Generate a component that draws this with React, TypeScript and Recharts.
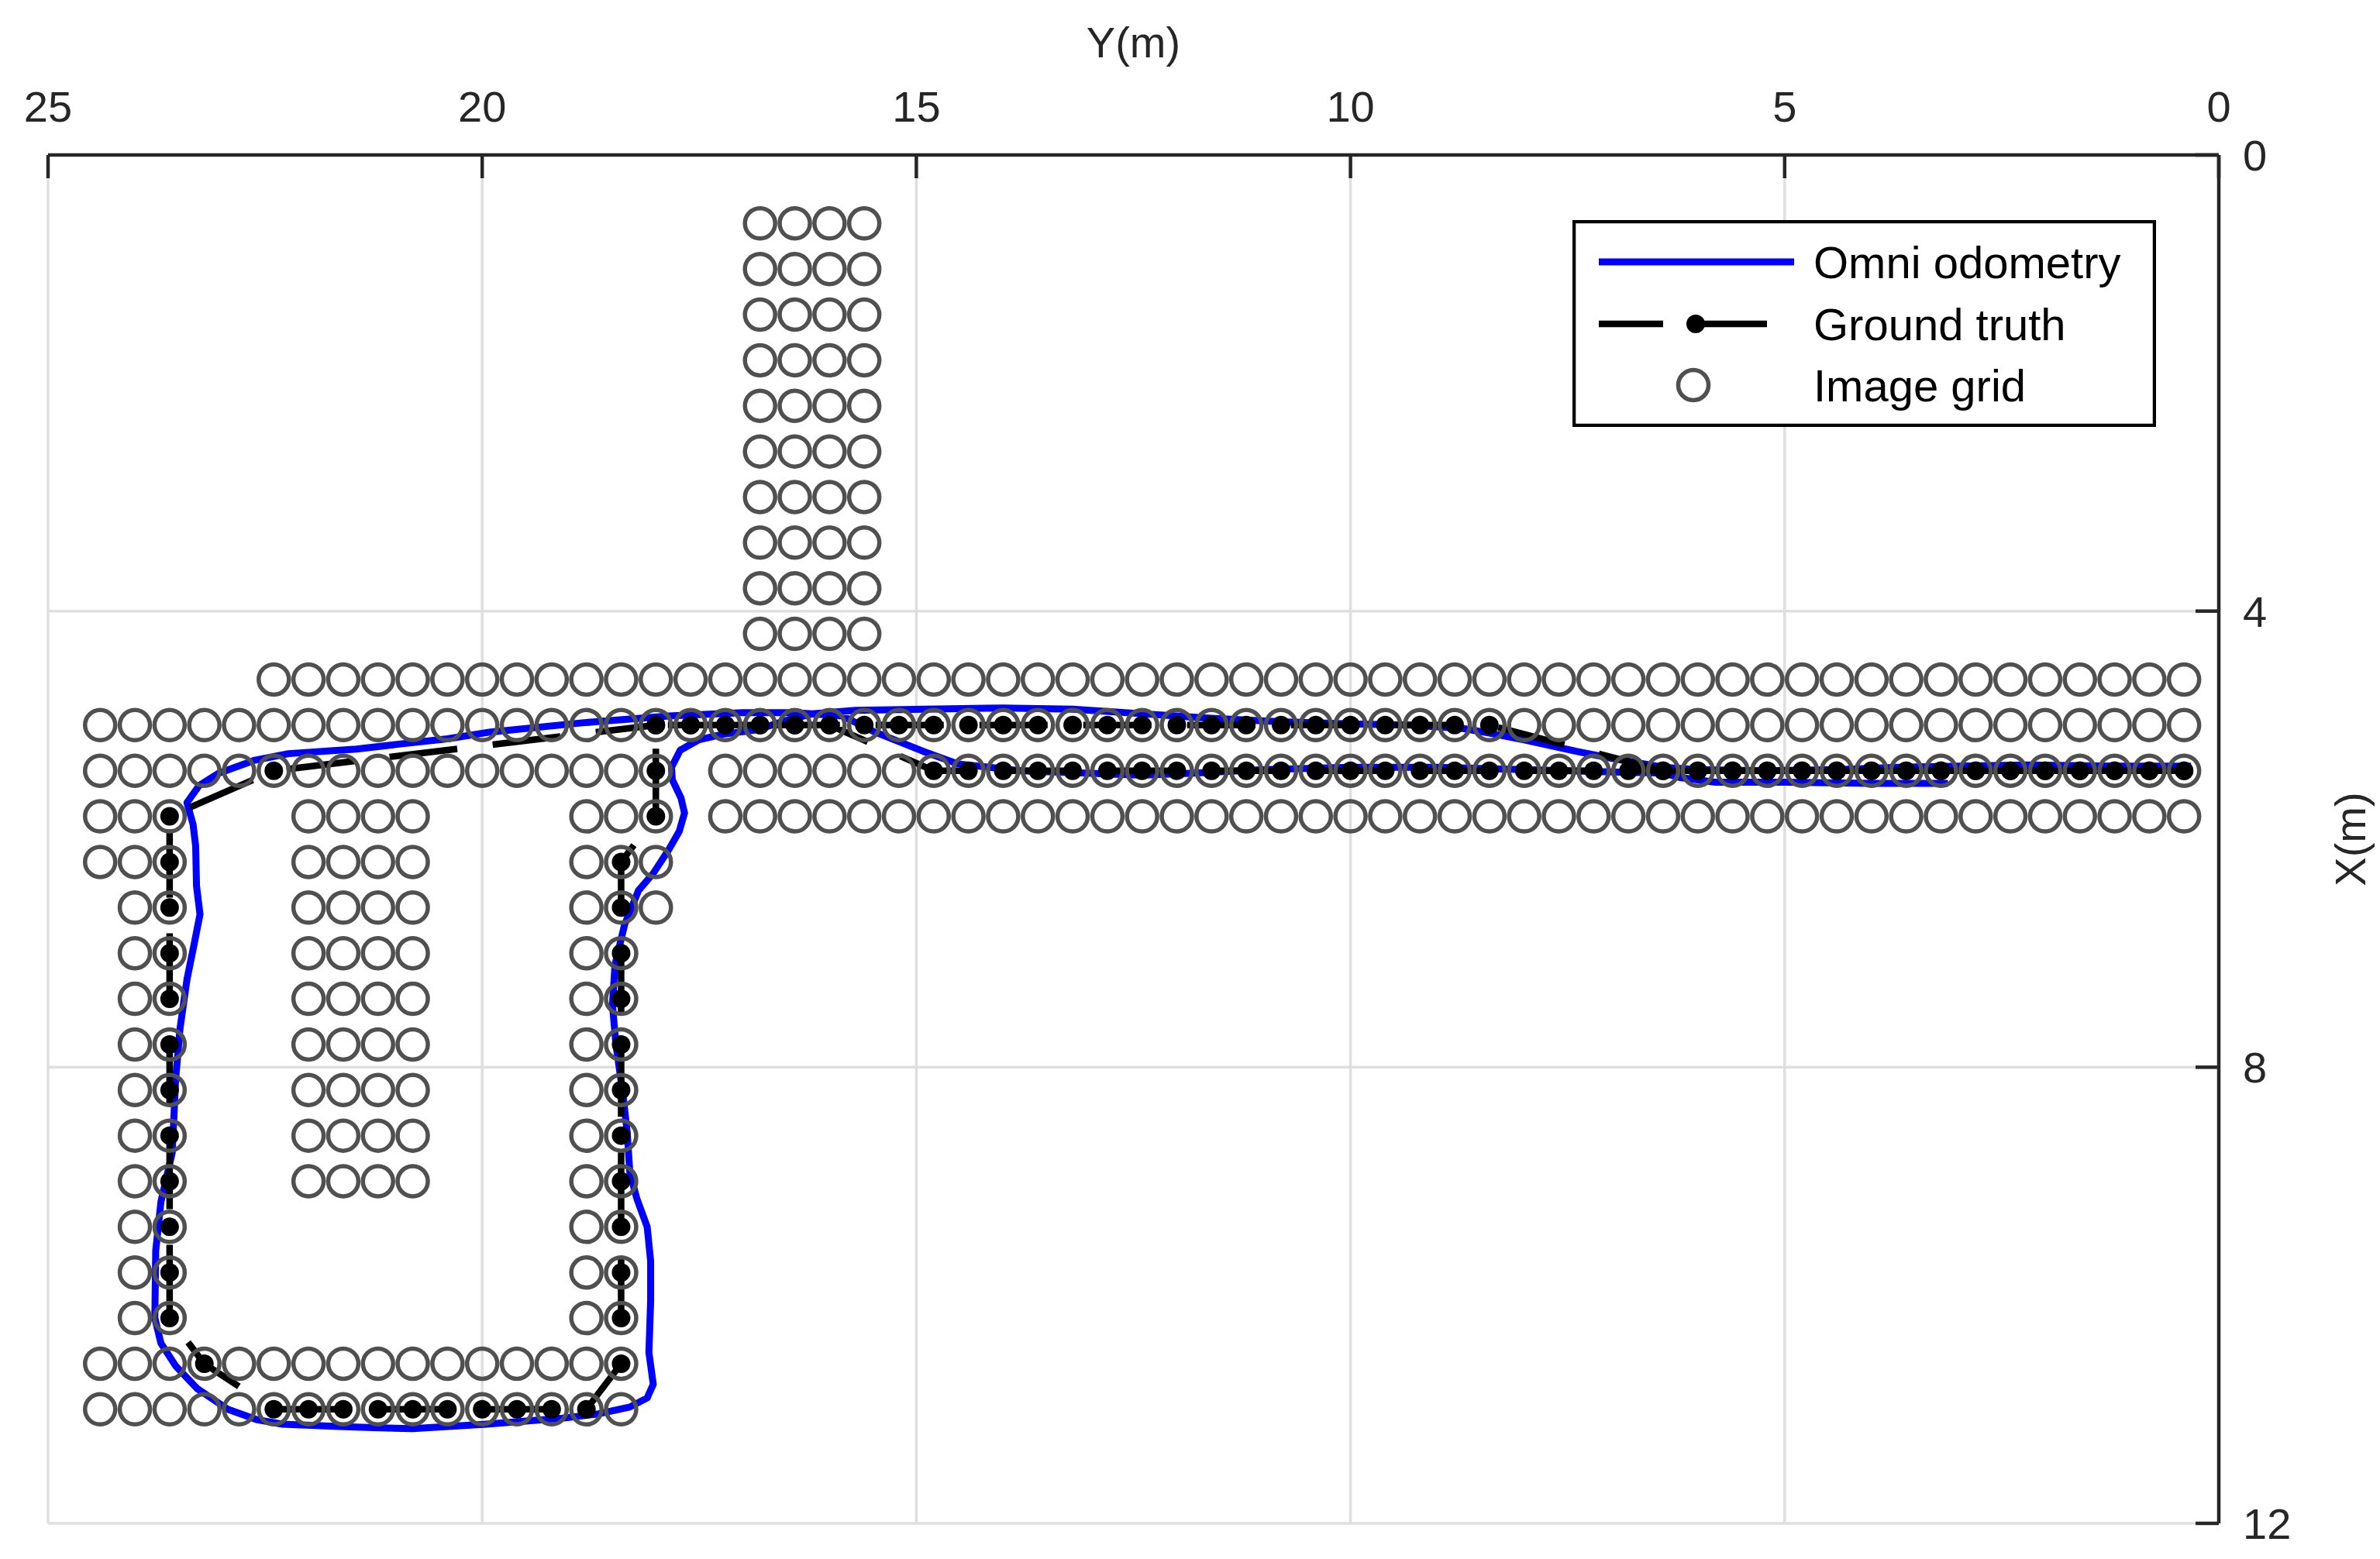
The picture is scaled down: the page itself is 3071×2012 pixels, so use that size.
import React from "react";
import {
  CartesianGrid,
  ComposedChart,
  Legend,
  Line,
  Scatter,
  XAxis,
  YAxis,
} from "recharts";

const FONT = '"Liberation Sans", Arial, Helvetica, sans-serif';

// tick values (metres)
const yTicks = [0, 5, 10, 15, 20, 25];
const xTicks = [0, 4, 8, 12];

// image grid, read row by row: [X row, first Y, last Y] on a 0.4 m pitch
const GRID_PITCH = 0.4;
const gridRuns: [number, number, number][] = [
  [0.6, 15.6, 16.8], [1.0, 15.6, 16.8], [1.4, 15.6, 16.8], [1.8, 15.6, 16.8], [2.2, 15.6, 16.8],
  [2.6, 15.6, 16.8], [3.0, 15.6, 16.8], [3.4, 15.6, 16.8], [3.8, 15.6, 16.8], [4.2, 15.6, 16.8],
  [4.6, 0.4, 22.4],
  [5.0, 0.4, 24.4],
  [5.4, 0.4, 17.2], [5.4, 18.0, 24.4],
  [5.8, 0.4, 17.2], [5.8, 18.0, 18.8], [5.8, 20.8, 22.0], [5.8, 23.6, 24.4],
  [6.2, 18.0, 18.8], [6.2, 20.8, 22.0], [6.2, 23.6, 24.4],
  [6.6, 18.0, 18.8], [6.6, 20.8, 22.0], [6.6, 23.6, 24.0],
  [7.0, 18.4, 18.8], [7.0, 20.8, 22.0], [7.0, 23.6, 24.0],
  [7.4, 18.4, 18.8], [7.4, 20.8, 22.0], [7.4, 23.6, 24.0],
  [7.8, 18.4, 18.8], [7.8, 20.8, 22.0], [7.8, 23.6, 24.0],
  [8.2, 18.4, 18.8], [8.2, 20.8, 22.0], [8.2, 23.6, 24.0],
  [8.6, 18.4, 18.8], [8.6, 20.8, 22.0], [8.6, 23.6, 24.0],
  [9.0, 18.4, 18.8], [9.0, 20.8, 22.0], [9.0, 23.6, 24.0],
  [9.4, 18.4, 18.8], [9.4, 23.6, 24.0],
  [9.8, 18.4, 18.8], [9.8, 23.6, 24.0],
  [10.2, 18.4, 18.8], [10.2, 23.6, 24.0],
  [10.6, 18.4, 24.4],
  [11.0, 18.4, 24.4],
];

// ground truth stations [Y, X] in travel order
const groundTruth: [number, number][] = [
  [0.4, 5.4], [0.8, 5.4], [1.2, 5.4], [1.6, 5.4], [2.0, 5.4], [2.4, 5.4], [2.8, 5.4], [3.2, 5.4],
  [3.6, 5.4], [4.0, 5.4], [4.4, 5.4], [4.8, 5.4], [5.2, 5.4], [5.6, 5.4], [6.0, 5.4], [6.4, 5.4],
  [8.4, 5.0], [8.8, 5.0], [9.2, 5.0], [9.6, 5.0], [10.0, 5.0], [10.4, 5.0], [10.8, 5.0], [11.2, 5.0],
  [11.6, 5.0], [12.0, 5.0], [12.4, 5.0], [12.8, 5.0], [13.2, 5.0], [13.6, 5.0], [14.0, 5.0], [14.4, 5.0],
  [14.8, 5.0], [15.2, 5.0], [15.6, 5.0], [16.0, 5.0], [16.4, 5.0], [16.8, 5.0], [17.2, 5.0], [17.6, 5.0],
  [18.0, 5.0], [18.0, 5.4], [18.0, 5.8],
  [18.4, 6.2], [18.4, 6.6], [18.4, 7.0], [18.4, 7.4], [18.4, 7.8], [18.4, 8.2], [18.4, 8.6], [18.4, 9.0],
  [18.4, 9.4], [18.4, 9.8], [18.4, 10.2], [18.4, 10.6],
  [18.8, 11.0], [19.2, 11.0], [19.6, 11.0], [20.0, 11.0], [20.4, 11.0], [20.8, 11.0], [21.2, 11.0],
  [21.6, 11.0], [22.0, 11.0], [22.4, 11.0],
  [23.2, 10.6],
  [23.6, 10.2], [23.6, 9.8], [23.6, 9.4], [23.6, 9.0], [23.6, 8.6], [23.6, 8.2], [23.6, 7.8], [23.6, 7.4],
  [23.6, 7.0], [23.6, 6.6], [23.6, 6.2], [23.6, 5.8],
  [22.4, 5.4],
  [18.0, 5.0], [17.6, 5.0], [17.2, 5.0], [16.8, 5.0], [16.4, 5.0], [16.0, 5.0],
  [14.8, 5.4], [14.4, 5.4], [14.0, 5.4], [13.6, 5.4], [13.2, 5.4], [12.8, 5.4], [12.4, 5.4], [12.0, 5.4],
  [11.6, 5.4], [11.2, 5.4], [10.8, 5.4], [10.4, 5.4], [10.0, 5.4], [9.6, 5.4], [9.2, 5.4], [8.8, 5.4],
  [8.4, 5.4], [8.0, 5.4], [7.6, 5.4], [7.2, 5.4], [6.8, 5.4], [6.4, 5.4], [6.0, 5.4], [5.6, 5.4],
  [5.2, 5.4], [4.8, 5.4], [4.4, 5.4], [4.0, 5.4], [3.6, 5.4], [3.2, 5.4], [2.8, 5.4], [2.4, 5.4],
  [2.0, 5.4], [1.6, 5.4], [1.2, 5.4], [0.8, 5.4], [0.4, 5.4],
];

// omni odometry trace [Y, X]
const omniOdometry: [number, number][] = [
  [0.32, 5.36], [1.2, 5.36], [2.2, 5.35], [3.0, 5.36], [3.7, 5.37], [4.4, 5.39], [5.2, 5.4], [6.0, 5.39],
  [6.4, 5.37], [7.0, 5.29], [7.4, 5.23], [8.0, 5.13], [8.4, 5.07], [8.7, 5.03], [9.3, 5.0], [10.0, 4.99],
  [10.8, 4.97], [11.6, 4.94], [12.4, 4.9], [13.2, 4.86], [14.0, 4.85], [14.9, 4.86], [15.7, 4.87],
  [16.2, 4.9], [16.55, 4.97], [16.83, 5.04], [17.23, 5.08], [17.51, 5.13], [17.72, 5.22], [17.82, 5.37],
  [17.81, 5.48], [17.71, 5.64], [17.67, 5.77], [17.73, 5.93], [17.85, 6.09], [18.03, 6.3], [18.2, 6.45],
  [18.36, 6.75], [18.47, 7.1], [18.5, 7.45], [18.46, 7.8], [18.38, 8.23], [18.33, 8.57], [18.3, 8.92],
  [18.22, 9.15], [18.1, 9.4], [18.06, 9.7], [18.06, 10.05], [18.08, 10.5], [18.03, 10.78], [18.1, 10.9],
  [18.3, 10.98], [18.66, 11.04], [19.1, 11.08], [19.95, 11.13], [20.8, 11.17], [21.25, 11.16],
  [21.65, 11.15], [22.3, 11.13], [22.6, 11.09], [22.93, 11.0], [23.28, 10.82], [23.53, 10.62],
  [23.7, 10.42], [23.77, 10.2], [23.76, 9.61], [23.7, 9.18], [23.57, 8.75], [23.53, 8.1], [23.48, 7.66],
  [23.4, 7.23], [23.32, 6.93], [23.25, 6.66], [23.29, 6.41], [23.3, 6.06], [23.33, 5.87], [23.4, 5.68],
  [23.26, 5.53], [23.03, 5.42], [22.63, 5.31], [22.23, 5.25], [21.45, 5.21], [21.0, 5.17], [20.4, 5.12],
  [19.9, 5.06], [18.85, 4.98], [17.85, 4.92], [17.0, 4.89], [16.4, 4.89], [15.85, 4.92], [15.48, 5.06],
  [14.92, 5.23], [14.52, 5.34], [13.8, 5.4], [13.05, 5.42], [12.4, 5.44], [11.8, 5.42], [11.0, 5.39],
  [10.0, 5.37], [9.0, 5.37], [8.0, 5.39], [7.0, 5.41], [6.4, 5.42], [6.2, 5.46], [5.8, 5.5], [5.0, 5.5],
  [4.0, 5.51], [3.12, 5.51],
];

const toPoints = (pts: [number, number][]) => pts.map(([y, x]) => ({ y, x }));

const gridPoints = gridRuns.flatMap(([x, from, to]) => {
  const row: { y: number; x: number }[] = [];
  const k0 = Math.round(from / GRID_PITCH);
  const k1 = Math.round(to / GRID_PITCH);
  for (let k = k0; k <= k1; k++) row.push({ y: +(k * GRID_PITCH).toFixed(1), x });
  return row;
});

const AXIS = "#262626";
const GRID_GREY = "#505050";
const BLUE = "#0000ff";

const HollowCircle = (p: any) => (
  <circle cx={p.cx} cy={p.cy} r={19.5} fill="none" stroke={GRID_GREY} strokeWidth={5.5} />
);
const TruthDot = (p: any) => (
  <circle key={`gt-${p.index}`} cx={p.cx} cy={p.cy} r={12} fill="#000" stroke="none" />
);

const RightAxisLabel = (props: any) => {
  const vb = props.viewBox || { x: 2863, y: 200, width: 208, height: 1766 };
  const lx = vb.x + 189;
  const ly = vb.y + vb.height / 2;
  return (
    <text
      x={lx}
      y={ly}
      transform={`rotate(-90 ${lx} ${ly})`}
      textAnchor="middle"
      fill={AXIS}
      fontSize={56}
      fontFamily={FONT}
    >
      X(m)
    </text>
  );
};

const LegendBox = () => (
  <svg width={753} height={267} style={{ display: "block" }}>
    <rect x={2} y={2} width={749} height={263} fill="#fff" stroke="#000" strokeWidth={4.5} />
    <line x1={34} x2={286} y1={54} y2={54} stroke={BLUE} strokeWidth={9} />
    <line x1={34} x2={117} y1={134} y2={134} stroke="#000" strokeWidth={8.5} />
    <line x1={149} x2={251} y1={134} y2={134} stroke="#000" strokeWidth={8.5} />
    <circle cx={159} cy={134} r={12} fill="#000" />
    <circle cx={156} cy={213} r={19.5} fill="none" stroke={GRID_GREY} strokeWidth={5.5} />
    <g fill="#000" fontSize={58} fontFamily={FONT}>
      <text x={311} y={75}>Omni odometry</text>
      <text x={311} y={155}>Ground truth</text>
      <text x={311} y={234}>Image grid</text>
    </g>
  </svg>
);

export default function App() {
  return (
    <div style={{ position: "absolute", left: 0, top: 0, width: 3071, height: 2012, background: "#fff" }}>
      <ComposedChart
        width={3071}
        height={2012}
        margin={{ top: 30, right: 0, bottom: 46, left: 62 }}
      >
        <CartesianGrid stroke="#dfdfdf" strokeWidth={3.5} />
        <XAxis
          type="number"
          dataKey="y"
          orientation="top"
          domain={[0, 25]}
          ticks={yTicks}
          reversed
          allowDataOverflow
          allowDuplicatedCategory
          height={170}
          tickSize={-30}
          tickMargin={73}
          axisLine={{ stroke: AXIS, strokeWidth: 4.5 }}
          tickLine={{ stroke: AXIS, strokeWidth: 4.5 }}
          tick={{ fill: AXIS, fontSize: 56, fontFamily: FONT }}
          label={{
            value: "Y(m)",
            position: "insideTop",
            offset: 4,
            fill: AXIS,
            fontSize: 56,
            fontFamily: FONT,
          }}
        />
        <YAxis
          type="number"
          dataKey="x"
          orientation="right"
          domain={[0, 12]}
          ticks={xTicks}
          reversed
          allowDataOverflow
          width={208}
          tickSize={-30}
          tickMargin={61}
          axisLine={{ stroke: AXIS, strokeWidth: 4.5 }}
          tickLine={{ stroke: AXIS, strokeWidth: 4.5 }}
          tick={{ fill: AXIS, fontSize: 56, fontFamily: FONT }}
          label={{ content: RightAxisLabel }}
        />
        {/* plain frame on the other two sides */}
        <XAxis
          xAxisId="frame"
          type="number"
          orientation="bottom"
          domain={[0, 25]}
          height={0}
          tick={false}
          tickLine={false}
          axisLine={{ stroke: AXIS, strokeWidth: 4.5 }}
        />
        <YAxis
          yAxisId="frame"
          type="number"
          orientation="left"
          domain={[0, 12]}
          width={0}
          tick={false}
          tickLine={false}
          axisLine={{ stroke: AXIS, strokeWidth: 4.5 }}
        />
        <Line
          name="Omni odometry"
          data={toPoints(omniOdometry)}
          dataKey="x"
          type="linear"
          stroke={BLUE}
          strokeWidth={9}
          strokeLinejoin="round"
          dot={false}
          activeDot={false}
          isAnimationActive={false}
        />
        <Line
          name="Ground truth"
          data={toPoints(groundTruth)}
          dataKey="x"
          type="linear"
          stroke="#000"
          strokeWidth={8.5}
          strokeDasharray="88 46"
          dot={TruthDot}
          activeDot={false}
          isAnimationActive={false}
        />
        <Scatter
          name="Image grid"
          data={gridPoints}
          fill="none"
          shape={HollowCircle}
          isAnimationActive={false}
        />
        <Legend
          layout="horizontal"
          verticalAlign="middle"
          align="center"
          wrapperStyle={{ left: 2029, top: 284, width: 753, height: 267 }}
          content={LegendBox}
        />
      </ComposedChart>
    </div>
  );
}
